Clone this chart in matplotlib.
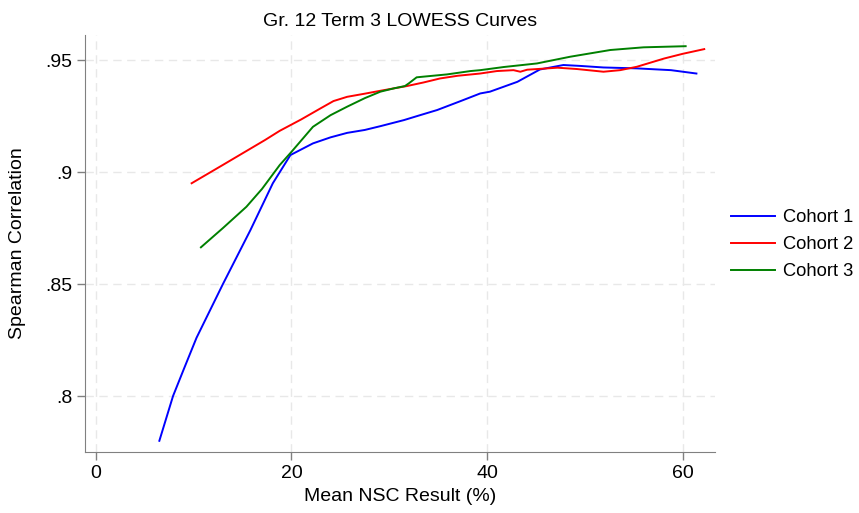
import matplotlib
matplotlib.use("Agg")
import matplotlib.pyplot as plt

plt.rcParams['font.family'] = ['Liberation Sans', 'DejaVu Sans']

# Cohort 1 (blue)
c1_x = [6.5, 7.9, 9.0, 10.3, 13.0, 15.8, 18.1, 19.9, 22.2, 24.0, 25.7, 27.5, 29.1, 31.5, 33.0, 34.9,
        37.3, 39.3, 40.3, 43.1, 45.4, 47.8, 49.5, 51.9, 55.3, 58.8, 61.4]
c1_y = [0.780, 0.800, 0.812, 0.826, 0.850, 0.874, 0.895, 0.9076, 0.9128, 0.9155, 0.9175, 0.9188, 0.9205,
        0.9232, 0.9252, 0.9277, 0.9317, 0.9351, 0.9359, 0.9403, 0.9458, 0.9478, 0.9474, 0.9467, 0.9463,
        0.9455, 0.9440]

# Cohort 2 (red)
c2_x = [9.8, 13.0, 17.3, 18.8, 21.0, 23.0, 24.3, 25.7, 27.5, 29.1, 31.8, 33.5, 35.2, 37.0, 39.3, 41.0,
        42.7, 43.4, 44.1, 47.2, 49.2, 51.9, 53.6, 55.3, 58.1, 60.0, 62.2]
c2_y = [0.895, 0.9032, 0.9143, 0.9184, 0.9235, 0.9285, 0.9317, 0.9336, 0.9350, 0.9363, 0.9384, 0.9400,
        0.9418, 0.9430, 0.9440, 0.9451, 0.9455, 0.9448, 0.9457, 0.9466, 0.9460, 0.9448, 0.9455, 0.9470,
        0.9507, 0.9528, 0.9549]

# Cohort 3 (green)
c3_x = [10.75, 13.0, 15.4, 17.0, 18.8, 20.0, 22.2, 24.0, 25.7, 27.5, 29.1, 30.5, 31.6, 32.0, 32.8,
        33.5, 35.9, 38.3, 39.3, 41.7, 45.1, 48.5, 52.6, 56.0, 60.3]
c3_y = [0.8664, 0.8750, 0.8845, 0.8925, 0.9031, 0.9090, 0.9202, 0.9254, 0.9292, 0.9330, 0.9359, 0.9374,
        0.9384, 0.9396, 0.9423, 0.9426, 0.9436, 0.9451, 0.9455, 0.9469, 0.9485, 0.9515, 0.9545, 0.9557,
        0.9562]

x_ticks = [0, 20, 40, 60]
y_ticks = [0.8, 0.85, 0.9, 0.95]
y_tick_labels = ['.8', '.85', '.9', '.95']

W, H = 859, 513
fig = plt.figure(figsize=(W / 100, H / 100), dpi=100)
ax = fig.add_axes([85 / W, (H - 452) / H, (715 - 85) / W, (452 - 35) / H])

ax.plot(c1_x, c1_y, color='#0000ff', lw=1.4, label='Cohort 1')
ax.plot(c2_x, c2_y, color='#ff0000', lw=1.4, label='Cohort 2')
ax.plot(c3_x, c3_y, color='#008000', lw=1.4, label='Cohort 3')

ax.set_xlim(-1.1, 63.3)
ax.set_ylim(0.775, 0.9612)
ax.set_xticks(x_ticks)
ax.set_yticks(y_ticks)
ax.set_yticklabels(y_tick_labels)
ax.grid(True, color='#e8e8e8', linestyle=(0, (6, 4)), lw=1)
ax.set_axisbelow(True)
for s in ['top', 'right']:
    ax.spines[s].set_visible(False)
for s in ['left', 'bottom']:
    ax.spines[s].set_color('#808080')
ax.tick_params(colors='#808080', labelcolor='black', labelsize=14, length=6, width=1, direction='out', pad=3)

ax.set_xlabel('Mean NSC Result (%)', fontsize=14)
ax.xaxis.set_label_coords(0.5, (452 - 488) / (452 - 35))
ax.set_ylabel('Spearman Correlation', fontsize=14)
ax.yaxis.set_label_coords((17.5 - 85) / (715 - 85), 0.5)
ax.yaxis.label.set_va('center')

fig.text(400 / W, (H - 21) / H, 'Gr. 12 Term 3 LOWESS Curves', fontsize=14, ha='center', va='center')

fig.legend(handles=ax.get_lines(), loc='center left', bbox_to_anchor=(731 / W, (H - 244.5) / H),
           frameon=False, fontsize=13.2, handlelength=2.4, handletextpad=0.45, labelspacing=0.55,
           borderpad=0, borderaxespad=0)

fig.savefig('out.png', dpi=100)
